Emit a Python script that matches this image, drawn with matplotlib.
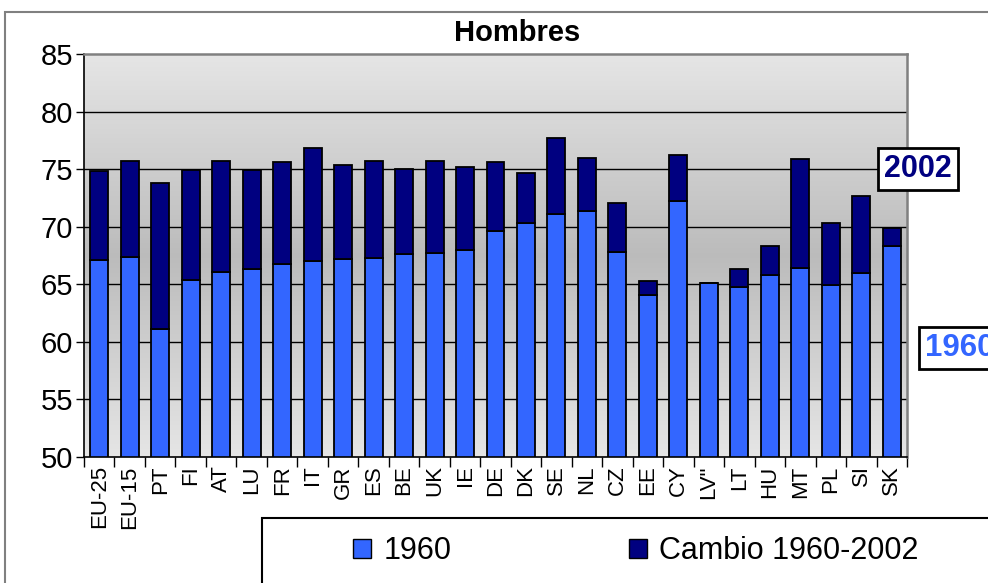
import numpy as np
import matplotlib
matplotlib.use('Agg')
import matplotlib.pyplot as plt
from matplotlib.patches import Rectangle, Patch

plt.rcParams['font.family'] = ['Liberation Sans', 'DejaVu Sans']

paises = ['EU-25', 'EU-15', 'PT', 'FI', 'AT', 'LU', 'FR', 'IT', 'GR', 'ES',
          'BE', 'UK', 'IE', 'DE', 'DK', 'SE', 'NL', 'CZ', 'EE', 'CY',
          'LV"', 'LT', 'HU', 'MT', 'PL', 'SI', 'SK']
v1960 = [67.1, 67.4, 61.1, 65.4, 66.1, 66.3, 66.8, 67.0, 67.2, 67.3,
         67.6, 67.7, 68.0, 69.6, 70.3, 71.1, 71.4, 67.8, 64.1, 72.2,
         65.1, 64.8, 65.8, 66.4, 64.9, 66.0, 68.3]
cambio = [7.7, 8.3, 12.7, 9.5, 9.6, 8.6, 8.8, 9.8, 8.2, 8.4,
          7.4, 8.0, 7.2, 6.0, 4.4, 6.6, 4.6, 4.3, 1.2, 4.0,
          0.0, 1.5, 2.5, 9.5, 5.4, 6.7, 1.6]
yticks = [50, 55, 60, 65, 70, 75, 80, 85]

col1960 = '#3366ff'
colcambio = '#000080'


def main():
    fig = plt.figure(figsize=(9.88, 5.83), dpi=100)
    ax = fig.add_axes([84/988, 1 - 457/583, (907-84)/988, (457-54)/583])

    n = len(paises)
    x = np.arange(n)

    # grey gradient background, darker in the middle
    t = np.linspace(0, 1, 256)
    g = 0.90 - 0.165 * (1 - np.abs(2*t - 1))
    img = np.repeat(g[:, None], 2, axis=1)
    img = np.dstack([img, img, img])
    ax.imshow(img, extent=[-0.5, n - 0.5, 50, 85], aspect='auto',
              origin='lower', zorder=0)

    for y in yticks[1:-1]:
        ax.axhline(y, color='black', lw=1, zorder=1)

    ax.bar(x, v1960, width=0.59, color=col1960,
           edgecolor='black', lw=1.3, zorder=2, label='1960')
    ax.bar(x, cambio, width=0.59, bottom=v1960, color=colcambio,
           edgecolor='black', lw=1.3, zorder=2, label='Cambio 1960-2002')

    ax.set_xlim(-0.5, n - 0.5)
    ax.set_ylim(50, 85)
    ax.set_yticks(yticks)
    ax.set_yticklabels([str(v) for v in yticks], fontsize=21)
    ax.tick_params(axis='y', direction='out', length=6, width=1, pad=2)
    ax.set_xticks(x)
    ax.set_xticklabels(paises, rotation=90, fontsize=16)
    ax.tick_params(axis='x', which='major', length=0, pad=6)
    ax.set_xticks(np.arange(-0.5, n, 1), minor=True)
    ax.tick_params(axis='x', which='minor', direction='out', length=7, width=1)

    for s in ['left', 'bottom']:
        ax.spines[s].set_color('black')
        ax.spines[s].set_linewidth(1.2)
    for s in ['top', 'right']:
        ax.spines[s].set_color('#808080')
        ax.spines[s].set_linewidth(1.8)

    # outer chart frame
    fig.patches.append(Rectangle((5/988, -0.2), 1.2, 0.2 + (583-12)/583,
                                 transform=fig.transFigure, fill=False,
                                 edgecolor='#808080', lw=1.5))

    fig.text(517/988, 1 - 33/583, 'Hombres', fontsize=21, fontweight='bold',
             ha='center', va='center')

    # legend box
    fig.patches.append(Rectangle((262/988, -0.2), 1.0, 0.2 + (583-518)/583,
                                 transform=fig.transFigure, facecolor='white',
                                 edgecolor='black', lw=1.5))
    handles = [Patch(facecolor=col1960, edgecolor='black', lw=1),
               Patch(facecolor=colcambio, edgecolor='black', lw=1)]
    fig.legend(handles, ['1960', 'Cambio 1960-2002'], ncol=2, frameon=False,
               loc='center', bbox_to_anchor=(636/988, 1 - 551/583),
               fontsize=22, handlelength=0.6, handleheight=0.6,
               handletextpad=0.4, columnspacing=5.8)

    fig.text(918/988, 1 - 169/583, '2002', fontsize=22, fontweight='bold',
             color=colcambio, ha='center', va='center',
             bbox=dict(facecolor='white', edgecolor='black', lw=2,
                       boxstyle='square,pad=0.2'))
    fig.text(925/988, 1 - 348/583, '1960', fontsize=22.5, fontweight='bold',
             color=col1960, ha='left', va='center',
             bbox=dict(facecolor='white', edgecolor='black', lw=2,
                       boxstyle='square,pad=0.2'))

    plt.savefig('out.png', dpi=100)


if __name__ == "__main__":
    main()
